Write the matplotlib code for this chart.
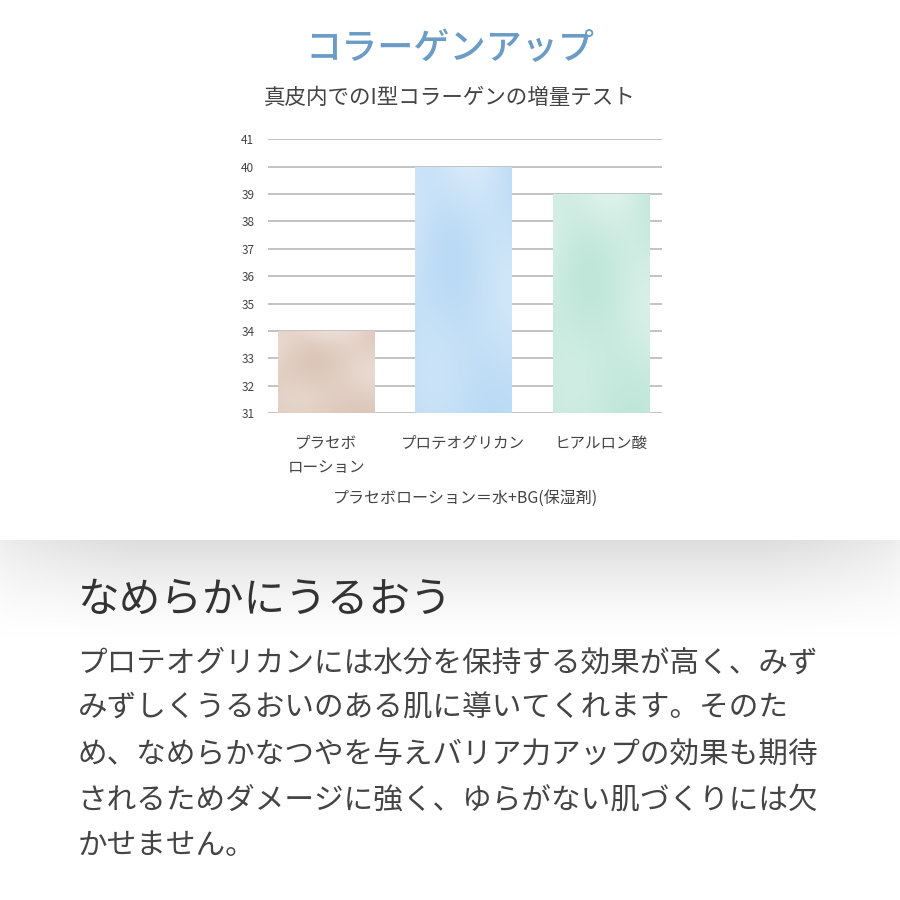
import numpy as np
import matplotlib
matplotlib.use("Agg")
import matplotlib.pyplot as plt

plt.rcParams['font.family'] = ['Noto Sans CJK JP', 'DejaVu Sans']

# chart data
categories = ["プラセボ\nローション", "プロテオグリカン", "ヒアルロン酸"]
values = [34, 40, 39]
y_ticks = list(range(31, 42))
bar_colors = ["#dcc6b9", "#badaf5", "#bfe6d9"]
bar_light = ["#efe3dc", "#dcecfa", "#e3f4ee"]

title = "コラーゲンアップ"
subtitle = "真皮内でのI型コラーゲンの増量テスト"
footnote = "プラセボローション＝水+BG(保湿剤)"
heading = "なめらかにうるおう"
body_lines = [
    "プロテオグリカンには水分を保持する効果が高く、みず",
    "みずしくうるおいのある肌に導いてくれます。そのた",
    "め、なめらかなつやを与えバリア力アップの効果も期待",
    "されるためダメージに強く、ゆらがない肌づくりには欠",
    "かせません。",
]

fig = plt.figure(figsize=(9, 9), dpi=100)
fig.patch.set_facecolor("white")

# shadow band under the chart block
bg = fig.add_axes([0, 0, 1, 1], zorder=-5)
bg.set_xlim(0, 1)
bg.set_ylim(0, 1)
bg.axis("off")
yy = np.linspace(0, 1, 200)[:, None]
xx = np.linspace(0, 1, 400)[None, :]
vert = np.clip(1 - yy, 0, 1) ** 1.4
horiz = np.clip(np.minimum(xx, 1 - xx) / 0.15, 0, 1) ** 0.6
shade = vert * (0.45 + 0.55 * horiz)
rgba = np.zeros((200, 400, 4))
rgba[..., :3] = 0.87
rgba[..., 3] = shade
band_top = 0.40
bg.imshow(rgba, extent=[0, 1, band_top - 0.11, band_top], origin="upper", aspect="auto")

# bar chart
ax = fig.add_axes([0.298, 0.541, 0.438, 0.3044])
x = np.arange(len(categories))
bars = ax.bar(x, values, width=0.70, bottom=0, color=bar_colors, zorder=3)
ax.set_yticks(y_ticks)
ax.set_yticklabels([str(t) for t in y_ticks], fontsize=8.5, color="#444444")
ax.set_xticks(x)
ax.set_xticklabels(categories, fontsize=11.2, color="#444444", linespacing=1.5, va="top")
ax.tick_params(axis="y", length=0, pad=10)
ax.tick_params(axis="x", length=0, pad=16)
ax.grid(axis="y", color="#b3b3b3", linewidth=1.1, zorder=0)
ax.set_axisbelow(True)
for s in ax.spines.values():
    s.set_visible(False)

# soft watercolour-like shading inside each bar
gy, gx = np.mgrid[0:1:120j, 0:1:60j]
for b, c_dark, c_light in zip(bars, bar_colors, bar_light):
    d = np.array(matplotlib.colors.to_rgb(c_dark))
    l = np.array(matplotlib.colors.to_rgb(c_light))
    t = 0.5 + 0.25 * np.sin(6 * gx + 4 * gy) + 0.25 * np.cos(3 * gx - 7 * gy)
    t = np.clip(t * (0.4 + 0.6 * gy), 0, 1)
    img = l[None, None, :] * t[..., None] + d[None, None, :] * (1 - t[..., None])
    x0, y0 = b.get_x(), b.get_y()
    im = ax.imshow(img, extent=[x0, x0 + b.get_width(), 31, y0 + b.get_height()],
                   origin="lower", aspect="auto", zorder=3.5)
    im.set_clip_path(b)
ax.set_xlim(-0.423, 2.45)
ax.set_ylim(31, 41)

# texts
fig.text(0.5, 0.946, title, ha="center", va="center", fontsize=26,
         color="#6b9cc6", fontweight="medium")
fig.text(0.5, 0.891, subtitle, ha="center", va="center", fontsize=15.5, color="#444444")
fig.text(0.517, 0.4467, footnote, ha="center", va="center", fontsize=11.5, color="#444444")

fig.text(0.086, 0.333, heading, ha="left", va="center", fontsize=30, color="#333333")
for i, line in enumerate(body_lines):
    fig.text(0.086, 0.2633 - i * 0.0506, line, ha="left", va="center",
             fontsize=21.3, color="#444444")

fig.savefig("out.png", dpi=100, facecolor="white")
